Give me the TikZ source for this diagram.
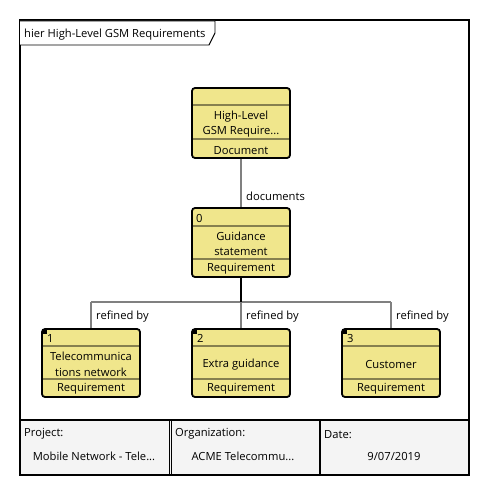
\documentclass[tikz,border=0pt]{standalone}
\usepackage{fontspec}
\setmainfont{Open Sans}
\usetikzlibrary{calc}
\definecolor{khaki}{HTML}{F0E68C}
\definecolor{sepline}{HTML}{86804F}
\definecolor{conn}{HTML}{808080}
\definecolor{foot}{HTML}{F4F4F4}
\tikzset{
  x=1pt,y=-1pt,
  txt/.style={font=\fontsize{11.2}{13}\selectfont, inner sep=0pt, text=black, yshift=-1.2pt},
  reqbox/.style={draw=black, line width=1.8pt, fill=khaki, rounded corners=3pt, minimum width=98pt, inner sep=0pt},
  sep/.style={draw=sepline, line width=1.4pt},
  link/.style={draw=conn, line width=1.4pt},
  frame/.style={draw=black, line width=1.8pt},
}
\begin{document}
\begin{tikzpicture}
\useasboundingbox (0,0) rectangle (490,495);
% frame
\draw[frame, fill=white] (20,20) rectangle (469,475);
% tab
\draw[black, line width=0.9pt, fill=white] (20,21) -- (215,21) -- (215,33) -- (209,45) -- (20,45);
\node[txt, anchor=west] (title) at (24,33) {hier High-Level GSM Requirements};

\coordinate (jL) at (91,302);
\coordinate (jM) at (241,302);
\coordinate (jR) at (391,302);

% nodes
\node[reqbox, minimum height=70pt] (doc) at (241,123) {};
\node[reqbox, minimum height=69pt] (n0) at (241,242.5) {};
\node[reqbox, minimum height=68pt] (n1) at (91,363) {};
\node[reqbox, minimum height=68pt] (n2) at (241,363) {};
\node[reqbox, minimum height=68pt] (n3) at (391,363) {};

\draw[link] (doc.south) -- (n0.north);
\draw[link] (jL) -- (jR);
\draw[link] (jL) -- (n1.north);
\draw[link] (jM) -- (n2.north);
\draw[link] (jR) -- (n3.north);
\draw[black, line width=1.8pt] (n0.south) -- (jM);
\node[txt, anchor=west] (lbldoc) at (246,195) {documents};
\node[txt, anchor=west] (lbl1) at (96,315) {refined by};
\node[txt, anchor=west] (lbl2) at (246,315) {refined by};
\node[txt, anchor=west] (lbl3) at (396,315) {refined by};

% top node compartments
\draw[sep] (193,105) -- (289,105);
\draw[sep] (193,139) -- (289,139);
\node[txt] (docn1) at (241,115) {High-Level};
\node[txt] (docn2) at (241,131) {GSM Require...};
\node[txt] (docs) at (241,149) {Document};

% node 0
\draw[sep] (193,226) -- (289,226);
\draw[sep] (193,259) -- (289,259);
\node[txt, anchor=west] (n0id) at (196,217) {0};
\node[txt] (n0a) at (241,235) {Guidance};
\node[txt] (n0b) at (241,251) {statement};
\node[txt] (n0s) at (241,268) {Requirement};

% bottom nodes
\foreach \cx/\id in {91/1,241/2,391/3}{
  \begin{scope}
    \clip[rounded corners=3pt] (\cx-49,329) rectangle (\cx+49,397);
    \fill[black] (\cx-49,329) rectangle (\cx-44.5,333.5);
  \end{scope}
  \draw[sep] (\cx-48,346) -- (\cx+48,346);
  \draw[sep] (\cx-48,379) -- (\cx+48,379);
  \node[txt, anchor=west] at (\cx-44,337.5) {\id};
  \node[txt] at (\cx,388) {Requirement};
}
\node[txt] (n1a) at (91,355) {Telecommunica};
\node[txt] (n1b) at (91,371) {tions network};
\node[txt] (n2a) at (241,363) {Extra guidance};
\node[txt] (n3a) at (391,363) {Customer};

% footer
\draw[black, line width=1.8pt, fill=foot] (20,420) rectangle (469,475);
\draw[black, line width=0.9pt] (169,420) -- (169,475);
\draw[black, line width=0.9pt] (171.5,420) -- (171.5,475);
\draw[black, line width=1.4pt] (320,420) -- (320,475);
\node[txt, anchor=west] (pl) at (24,433) {Project:};
\node[txt] (pv) at (94,455) {Mobile Network - Tele...};
\node[txt, anchor=west] (ol) at (175,433) {Organization:};
\node[txt] (ov) at (243,455) {ACME Telecommu...};
\node[txt, anchor=west] (dl) at (324,433) {Date:};
\node[txt] (dv) at (394,455) {9/07/2019};
\end{tikzpicture}
\end{document}
